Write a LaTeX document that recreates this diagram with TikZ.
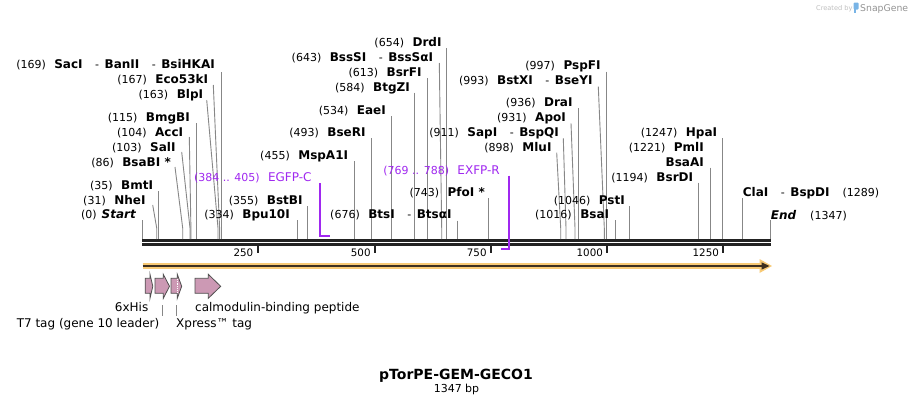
\documentclass[tikz,border=0pt]{standalone}
\usepackage{fontspec}
\setmainfont{DejaVu Sans}
\definecolor{bbcol}{RGB}{34,34,34}
\definecolor{cutcol}{RGB}{135,135,135}
\definecolor{primcol}{RGB}{160,40,240}
\definecolor{bandcol}{RGB}{248,202,118}
\definecolor{banddark}{RGB}{62,48,32}
\definecolor{featfill}{RGB}{204,153,180}
\definecolor{featdraw}{RGB}{80,80,80}
\definecolor{logoblue}{RGB}{120,180,230}
\newcommand\numtxt[1]{{\fontsize{11}{13}\selectfont #1}}
\newcommand\enztxt[1]{{\fontsize{12}{14}\selectfont\bfseries #1}}
\newcommand\enzit[1]{{\fontsize{12}{14}\selectfont\bfseries\itshape #1}}
\newcommand\dsh{\hspace{12.5pt}{\fontsize{11}{13}\selectfont -}\hspace{5.5pt}}
\newcommand\ngap{\hspace{8.5pt}}
\newcommand\cutv[3]{\coordinate (#1t) at (#2,#3); \coordinate (#1s) at (#2,239); \draw[cut] (#1t) -- (#1s);}
\newcommand\cutb[4]{\coordinate (#1t) at (#2,#3); \coordinate (#1b) at (#4,228); \coordinate (#1s) at (#4,239); \draw[cut] (#1t) -- (#1b) -- (#1s);}
\newcommand\featarrow[4]{\draw[feat] (#2,278.3) -- (#3,278.3) -- (#3,274.3) -- (#4,286.3) -- (#3,298.3) -- (#3,293.3) -- (#2,293.3) -- cycle; \coordinate (#1) at (#2,286.3);}
\begin{document}
\begin{tikzpicture}[x=1pt,y=-1pt,
  lbl/.style={inner sep=0pt,anchor=base east},
  lblr/.style={inner sep=0pt,anchor=base west},
  cut/.style={draw=cutcol,line width=0.9pt},
  primer/.style={draw=primcol,line width=1.8pt},
  ticklab/.style={inner sep=0pt,anchor=base east,font=\fontsize{10.3}{12}\selectfont},
  flab/.style={inner sep=0pt,font=\fontsize{12}{14}\selectfont},
  feat/.style={fill=featfill,draw=featdraw,line width=0.8pt,line join=miter}]
\useasboundingbox (0,0) rectangle (913,405);
\fill[white] (0,0) rectangle (913,405);

% watermark
\node[lblr,text=black!25,font=\fontsize{6.6}{8}\selectfont] (wm1) at (816,10.5) {Created by};
\fill[logoblue,rounded corners=1pt] (853.5,2.5) rectangle (858.5,9.5);
\fill[logoblue] (853.5,6) rectangle (855.5,13);
\node[lblr,text=black!42,font=\fontsize{9.3}{11}\selectfont] (wm2) at (860,11.5) {SnapGene};

% backbone
\coordinate (bbL) at (142.2,240.3); \coordinate (bbR) at (771,240.3);
\coordinate (bb2L) at (142.2,244.6); \coordinate (bb2R) at (771,244.6);
\draw[bbcol,line width=2.7pt] (bbL) -- (bbR);
\draw[bbcol,line width=2.3pt] (bb2L) -- (bb2R);

% ticks
\foreach \tx/\tl in {257.7/250,375/500,491/750,607.3/1000,723.3/1250}{
  \draw[bbcol,line width=2pt] (\tx,245.5) -- (\tx,252.7);
  \node[ticklab] at (\tx-4.2,256) {\tl};
}

% cut site lines
\cutv{a0}{142.7}{220}
\cutb{a31}{152.7}{205}{156.7}
\cutv{a35}{158.3}{191}
\cutb{a86}{175}{167}{182.7}
\cutb{a103}{181.7}{152}{190}
\cutb{a104}{189.3}{137}{190.9}
\cutv{a115}{196.7}{123}
\cutb{a163}{206.7}{100}{218}
\cutb{a167}{213.3}{85}{219.6}
\cutv{a169}{221.2}{72}
\cutv{a334}{297.7}{220}
\cutv{a355}{307.7}{206}
\cutv{a455}{354.3}{161}
\cutv{a493}{371.7}{138}
\cutv{a534}{391.7}{116}
\cutv{a584}{414.3}{92.7}
\cutv{a613}{427.3}{78.3}
\cutb{a643}{439.3}{63}{441.7}
\cutv{a654}{446.7}{48.3}
\cutv{a676}{457.3}{220.7}
\cutv{a743}{488.3}{198}
\cutb{a898}{556.7}{152.7}{560.7}
\cutb{a911}{563.3}{138.3}{566}
\cutb{a931}{571}{123.3}{575}
\cutv{a936}{578.3}{108.3}
\cutb{a993}{598.3}{86.7}{604.3}
\cutv{a997}{606.7}{71.7}
\cutv{a1016}{615.7}{220}
\cutv{a1046}{629.3}{206}
\cutv{a1194}{698.3}{182.7}
\cutv{a1221}{710.3}{167.7}
\cutv{a1247}{722.7}{138.3}
\cutv{a1289}{742.7}{198.3}
\cutv{a1347}{770.7}{220}

% enzyme labels
\node[lbl] (st) at (136,218.5) {\numtxt{(0)}\hspace{5pt}\enzit{Start}};
\node[lbl] (nhe) at (145.7,204.3) {\numtxt{(31)}\ngap\enztxt{NheI}};
\node[lbl] (bmt) at (153.3,189.3) {\numtxt{(35)}\ngap\enztxt{BmtI}};
\node[lbl] (bsab) at (171,166.3) {\numtxt{(86)}\ngap\enztxt{BsaBI *}};
\node[lbl] (sal) at (175.7,151.3) {\numtxt{(103)}\ngap\enztxt{SalI}};
\node[lbl] (acc) at (183.3,136.3) {\numtxt{(104)}\ngap\enztxt{AccI}};
\node[lbl] (bmg) at (190,121.3) {\numtxt{(115)}\ngap\enztxt{BmgBI}};
\node[lbl] (blp) at (203.3,98.3) {\numtxt{(163)}\ngap\enztxt{BlpI}};
\node[lbl] (eco) at (208.3,83.3) {\numtxt{(167)}\ngap\enztxt{Eco53kI}};
\node[lbl] (sac) at (215,68.3) {\numtxt{(169)}\ngap\enztxt{SacI}\dsh\enztxt{BanII}\dsh\enztxt{BsiHKAI}};
\node[lbl] (bpu) at (290,218.5) {\numtxt{(334)}\ngap\enztxt{Bpu10I}};
\node[lbl] (bstb) at (302.7,204.3) {\numtxt{(355)}\ngap\enztxt{BstBI}};
\node[lbl] (msp) at (348.3,159.3) {\numtxt{(455)}\ngap\enztxt{MspA1I}};
\node[lbl] (bser) at (365.7,136) {\numtxt{(493)}\ngap\enztxt{BseRI}};
\node[lbl] (eae) at (386,114.3) {\numtxt{(534)}\ngap\enztxt{EaeI}};
\node[lbl] (btgz) at (410,91.6) {\numtxt{(584)}\ngap\enztxt{BtgZI}};
\node[lbl] (bsrf) at (421.7,76.6) {\numtxt{(613)}\ngap\enztxt{BsrFI}};
\node[lbl] (bsss) at (433.3,61) {\numtxt{(643)}\ngap\enztxt{BssSI}\dsh\enztxt{BssSαI}};
\node[lbl] (drd) at (441.7,46.6) {\numtxt{(654)}\ngap\enztxt{DrdI}};
\node[lbl] (bts) at (451.7,218.5) {\numtxt{(676)}\ngap\enztxt{BtsI}\dsh\enztxt{BtsαI}};
\node[lbl] (pfo) at (485,196.6) {\numtxt{(743)}\ngap\enztxt{PfoI *}};
\node[lbl] (mlu) at (551.7,151) {\numtxt{(898)}\ngap\enztxt{MluI}};
\node[lbl] (sap) at (559,136) {\numtxt{(911)}\ngap\enztxt{SapI}\dsh\enztxt{BspQI}};
\node[lbl] (apo) at (566,121) {\numtxt{(931)}\ngap\enztxt{ApoI}};
\node[lbl] (dra) at (572.7,106) {\numtxt{(936)}\ngap\enztxt{DraI}};
\node[lbl] (bstx) at (592.7,84.3) {\numtxt{(993)}\ngap\enztxt{BstXI}\dsh\enztxt{BseYI}};
\node[lbl] (pspf) at (600.7,69.3) {\numtxt{(997)}\ngap\enztxt{PspFI}};
\node[lbl] (bsa) at (609.3,218.5) {\numtxt{(1016)}\ngap\enztxt{BsaI}};
\node[lbl] (pst) at (625,204.3) {\numtxt{(1046)}\ngap\enztxt{PstI}};
\node[lbl] (bsrd) at (693.3,181) {\numtxt{(1194)}\ngap\enztxt{BsrDI}};
\node[lbl] (bsaa) at (704,166) {\enztxt{BsaAI}};
\node[lbl] (pml) at (704,151) {\numtxt{(1221)}\ngap\enztxt{PmlI}};
\node[lbl] (hpa) at (717.3,136) {\numtxt{(1247)}\ngap\enztxt{HpaI}};
\node[lblr] (cla) at (742.7,196) {\enztxt{ClaI}\dsh\enztxt{BspDI}\hspace{13pt}\numtxt{(1289)}};
\node[lblr] (end) at (770.7,219.3) {\enzit{End}\hspace{14pt}\numtxt{(1347)}};

% primers
\coordinate (p1t) at (320.3,183.3); \coordinate (p1c) at (320.3,236); \coordinate (p1e) at (330,236);
\draw[primer] (p1t) -- (p1c) -- (p1e);
\node[lbl,text=primcol] (egfp) at (311.7,181) {\numtxt{(384 .. 405)}\hspace{8.3pt}{\fontsize{12}{14}\selectfont EGFP-C}};
\coordinate (p2t) at (509.3,175.7); \coordinate (p2c) at (509.3,249.3); \coordinate (p2e) at (500.7,249.3);
\draw[primer] (p2t) -- (p2c) -- (p2e);
\node[lbl,text=primcol] (exfp) at (500,174.3) {\numtxt{(769 .. 788)}\hspace{8.3pt}{\fontsize{12}{14}\selectfont EXFP-R}};

% orange ORF bar
\coordinate (oL) at (142.5,266); \coordinate (oR) at (762,266);
\draw[bandcol,line width=6pt] (oL) -- (oR);
\fill[bandcol] (759.5,259) -- (772,266) -- (759.5,273) -- cycle;
\draw[banddark,line width=2.2pt] (oL) -- (763,266);
\fill[banddark] (761.5,262.3) -- (769.5,266) -- (761.5,269.7) -- cycle;

% features
\featarrow{f1}{145.2}{150}{152.8}
\featarrow{f2}{155}{163.3}{169.5}
\featarrow{f3}{171}{177.3}{181.7}
\draw[white,line width=0.8pt,densely dotted] (177.3,279) -- (177.3,292.6);
\featarrow{f4}{195}{208.3}{220.7}

% feature labels
\node[flab,anchor=base east] (his) at (148.5,311.7) {6xHis};
\node[flab,anchor=base east] (t7) at (159.5,327.7) {T7 tag (gene 10 leader)};
\node[flab,anchor=base west] (xpr) at (176,327.7) {Xpress™ tag};
\node[flab,anchor=base west] (cbp) at (195,311.7) {calmodulin-binding peptide};
\coordinate (k1a) at (162.3,305); \coordinate (k1b) at (162.3,316);
\coordinate (k2a) at (176.7,305); \coordinate (k2b) at (176.7,316);
\draw[cut,line width=0.8pt] (k1a) -- (k1b);
\draw[cut,line width=0.8pt] (k2a) -- (k2b);

% title
\node[inner sep=0pt,anchor=base,font=\fontsize{14}{16}\selectfont\bfseries] (title) at (456,379.3) {pTorPE-GEM-GECO1};
\node[inner sep=0pt,anchor=base,font=\fontsize{11}{13}\selectfont] (sub) at (456.5,392.3) {1347 bp};
\end{tikzpicture}
\end{document}
